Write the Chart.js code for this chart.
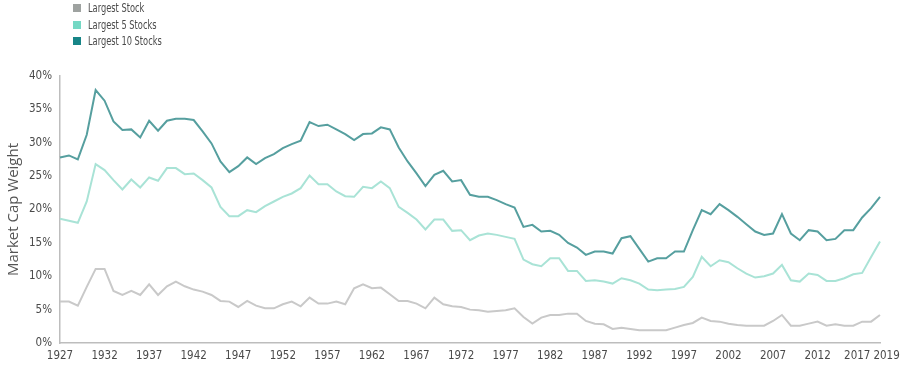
<!DOCTYPE html>
<html>
<head>
<meta charset="utf-8">
<script src="https://cdn.jsdelivr.net/npm/chart.js@4/dist/chart.umd.min.js"></script>
<style>
  html, body { margin: 0; padding: 0; background: #ffffff; }
  #wrap { position: relative; width: 900px; height: 366px; }
  #legend { position: absolute; left: 73px; top: 0px; font-family: 'DejaVu Sans Condensed', sans-serif; font-size: 11.5px; color: #4a4a4a; }
  #legend .item { display: flex; align-items: center; height: 16.5px; white-space: nowrap; }
  #legend .box { width: 8px; height: 8px; margin-right: 7px; flex: none; }
  #legend .txt { display: inline-block; transform: scaleX(0.8); transform-origin: left center; }
</style>
</head>
<body>
<div id="wrap">
  <canvas id="c" width="900" height="366"></canvas>
  <div id="legend"></div>
</div>
<script>
const years = [];
for (let y = 1927; y <= 2019; y++) years.push(y);

const largestStock = [
  6.2, 6.2, 5.6, 8.4, 11.1, 11.1, 7.8, 7.2, 7.8, 7.2,
  8.8, 7.2, 8.5, 9.2, 8.5, 8.0, 7.7, 7.2, 6.3, 6.2,
  5.4, 6.3, 5.6, 5.2, 5.2, 5.8, 6.2, 5.5, 6.8, 5.9,
  5.9, 6.2, 5.8, 8.2, 8.8, 8.2, 8.3, 7.3, 6.3, 6.3,
  5.9, 5.2, 6.8, 5.8, 5.5, 5.4, 5.0, 4.9, 4.7, 4.8,
  4.9, 5.2, 3.9, 2.9, 3.8, 4.2, 4.2, 4.4, 4.4, 3.3,
  2.9, 2.8, 2.1, 2.3, 2.1, 1.9, 1.9, 1.9, 1.9, 2.3,
  2.7, 3.0, 3.8, 3.3, 3.2, 2.9, 2.7, 2.6, 2.6, 2.6,
  3.3, 4.2, 2.6, 2.6, 2.9, 3.2, 2.6, 2.8, 2.6, 2.6,
  3.2, 3.2, 4.2
];

const largest5 = [
  18.6, 18.3, 18.0, 21.2, 26.8, 25.9, 24.4, 23.0, 24.5, 23.3,
  24.8, 24.3, 26.2, 26.2, 25.3, 25.4, 24.4, 23.3, 20.4, 19.0,
  19.0, 19.9, 19.6, 20.5, 21.2, 21.9, 22.4, 23.2, 25.1, 23.8,
  23.8, 22.7, 22.0, 21.9, 23.4, 23.2, 24.2, 23.2, 20.4, 19.5,
  18.5, 17.0, 18.5, 18.5, 16.8, 16.9, 15.4, 16.1, 16.4, 16.2,
  15.9, 15.6, 12.5, 11.8, 11.5, 12.7, 12.7, 10.8, 10.8, 9.3,
  9.4, 9.2, 8.9, 9.7, 9.4, 8.9, 8.0, 7.9, 8.0, 8.1,
  8.4, 9.9, 12.9, 11.5, 12.4, 12.1, 11.2, 10.4, 9.8, 10.0,
  10.4, 11.7, 9.4, 9.2, 10.4, 10.2, 9.3, 9.3, 9.7, 10.3,
  10.5, 12.9, 15.2
];

const largest10 = [
  27.8, 28.1, 27.5, 31.2, 37.9, 36.3, 33.2, 31.9, 32.0, 30.8,
  33.3, 31.8, 33.3, 33.6, 33.6, 33.4, 31.7, 29.9, 27.2, 25.6,
  26.5, 27.8, 26.8, 27.7, 28.3, 29.2, 29.8, 30.3, 33.1, 32.5,
  32.7, 32.0, 31.3, 30.4, 31.3, 31.4, 32.3, 32.0, 29.3, 27.2,
  25.4, 23.5, 25.2, 25.8, 24.2, 24.4, 22.2, 21.9, 21.9, 21.4,
  20.8, 20.3, 17.4, 17.7, 16.7, 16.8, 16.2, 15.0, 14.3, 13.2,
  13.7, 13.7, 13.4, 15.7, 16.0, 14.1, 12.2, 12.7, 12.7, 13.7,
  13.7, 16.9, 19.9, 19.3, 20.8, 19.9, 18.9, 17.8, 16.7, 16.2,
  16.4, 19.3, 16.4, 15.4, 16.9, 16.7, 15.4, 15.6, 16.9, 16.9,
  18.8, 20.2, 21.9
];

const seriesNames = ['Largest Stock', 'Largest 5 Stocks', 'Largest 10 Stocks'];
const yTicks = [0, 5, 10, 15, 20, 25, 30, 35, 40];

const lineColors = ['#c9c9c9', '#a9e3d6', '#569f9f'];
const legendColors = ['#9ea2a0', '#74d8c4', '#178587'];
const tickFont = { family: "'DejaVu Sans Condensed', sans-serif", size: 11.5 };

const chart = new Chart(document.getElementById('c'), {
  type: 'line',
  data: {
    labels: years,
    datasets: [largestStock, largest5, largest10].map((d, i) => ({
      label: seriesNames[i],
      data: d,
      borderColor: lineColors[i],
      backgroundColor: legendColors[i],
      borderWidth: 2,
      pointRadius: 0,
      tension: 0,
      fill: false
    }))
  },
  options: {
    responsive: false,
    animation: false,
    layout: { padding: { left: 0, right: 20, top: 76, bottom: 0 } },
    plugins: { legend: { display: false }, tooltip: { enabled: false } },
    scales: {
      x: {
        type: 'category',
        offset: false,
        grid: { display: false, drawTicks: false },
        border: { display: true, color: '#bdbdbd', width: 1.5 },
        afterFit: (s) => { s.height = 23; s.paddingLeft = 0; s.paddingRight = 0; },
        ticks: {
          autoSkip: false,
          maxRotation: 0,
          minRotation: 0,
          padding: 6,
          color: '#4a4a4a',
          font: tickFont,
          callback: function (v, i) {
            const yr = years[i];
            if (yr === 2019) return '\u00a0\u00a0\u00a0\u00a02019';
            if (yr === 2017) return '2017\u00a0\u00a0\u00a0';
            return (yr - 1927) % 5 === 0 && yr <= 2017 ? String(yr) : null;
          }
        }
      },
      y: {
        min: 0,
        max: 40,
        grid: { display: false, drawTicks: false },
        border: { display: true, color: '#bdbdbd', width: 1.5 },
        afterFit: (s) => { s.width = 60; },
        afterBuildTicks: (s) => { s.ticks = yTicks.map(v => ({ value: v })); },
        ticks: {
          padding: 8,
          color: '#4a4a4a',
          font: tickFont,
          callback: (v) => v + '%'
        },
        title: {
          display: true,
          text: 'Market Cap Weight',
          color: '#555555',
          font: { family: "'Open Sans', sans-serif", size: 15 },
          padding: { top: 5, bottom: 0 }
        }
      }
    }
  }
});

const legendEl = document.getElementById('legend');
chart.data.datasets.forEach((ds) => {
  const item = document.createElement('div');
  item.className = 'item';
  const box = document.createElement('span');
  box.className = 'box';
  box.style.background = ds.backgroundColor;
  const txt = document.createElement('span');
  txt.className = 'txt';
  txt.textContent = ds.label;
  item.appendChild(box);
  item.appendChild(txt);
  legendEl.appendChild(item);
});
</script>
</body>
</html>
